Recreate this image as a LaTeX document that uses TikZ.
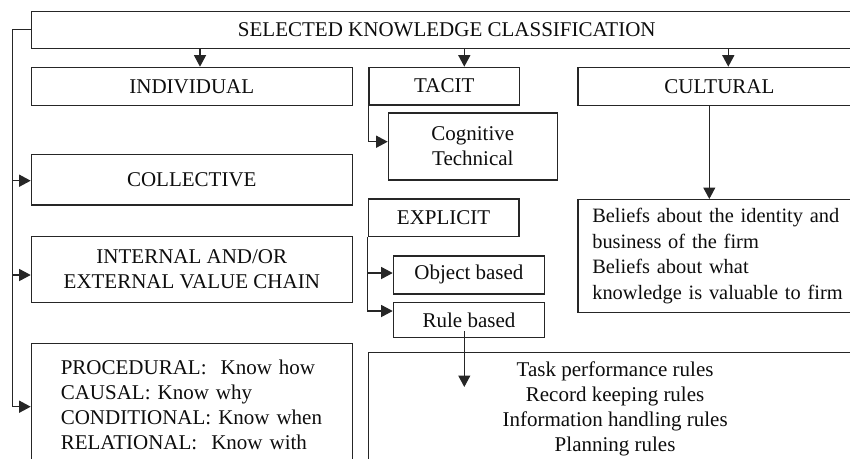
\documentclass[tikz,border=0pt]{standalone}
\usepackage{fontspec}
\setmainfont{Liberation Serif}
\usetikzlibrary{arrows.meta}
\frenchspacing
\begin{document}
\begin{tikzpicture}[x=1pt,y=-1pt,
  box/.style={draw=black!85, line width=1.2pt, anchor=north west, inner sep=0pt,
              font=\fontsize{21}{25}\selectfont, text=black!95},
  arr/.style={draw=black!85, line width=1.2pt, -{Triangle[length=11.5pt,width=12pt]}},
  ln/.style={draw=black!85, line width=1.2pt}]
\clip (0,0) rectangle (850,458);
% boxes
\node[box, minimum width=831, minimum height=37] (title) at (30.7,10.7) {SELECTED KNOWLEDGE CLASSIFICATION};
\node[box, minimum width=321, minimum height=38.3] (indiv) at (30.7,66.7) {INDIVIDUAL};
\node[box, minimum width=150.7, minimum height=37.6] (tacit) at (368.3,66.7) {TACIT};
\node[box, minimum width=283, minimum height=38.3] (cult) at (577.3,66.7) {CULTURAL};
\node[box, minimum width=169, minimum height=67, align=center] (cog) at (387.7,112.3) {Cognitive\\Technical};
\node[box, minimum width=321, minimum height=50.3] (coll) at (30.7,154) {COLLECTIVE};
\node[box, minimum width=150.6, minimum height=37.7] (expl) at (367.7,198.3) {EXPLICIT};
\node[box, minimum width=283, minimum height=112.7, text width=266, inner xsep=14.4, align=left,
      font=\fontsize{20.4}{25.6}\selectfont] (bel) at (577.3,199)
  {\mbox{Beliefs about the identity and}\\\mbox{business of the firm}\\\mbox{Beliefs about what}\\\mbox{knowledge is valuable to firm}};
\node[box, minimum width=321, minimum height=65.7, align=center] (intern) at (30.7,236) {INTERNAL AND/OR\\EXTERNAL VALUE CHAIN};
\node[box, minimum width=151.3, minimum height=38] (obj) at (392.7,255.3) {Object based};
\node[box, minimum width=151.3, minimum height=35.3] (rule) at (392.7,301.7) {Rule based};
\node[box, minimum width=321, minimum height=124, text width=262, inner xsep=29.3, align=left] (proc) at (30.7,342.7)
  {\mbox{PROCEDURAL:\ \ Know how}\\\mbox{CAUSAL: Know why}\\\mbox{CONDITIONAL: Know when}\\\mbox{RELATIONAL:\ \ Know with}};
\node[box, minimum width=493.6, minimum height=113.4, align=center] (rules) at (367.7,351.7)
  {Task performance rules\\Record keeping rules\\Information handling rules\\Planning rules};
% helper coordinates
\coordinate (xa) at (200,0);
\coordinate (xb) at (464.3,0);
\coordinate (xc) at (728.3,0);
\coordinate (xd) at (709.3,0);
\coordinate (lft) at (12.3,0);
\coordinate (ycoll) at (0,180.7);
\coordinate (yint) at (0,275);
\coordinate (yproc) at (0,406.7);
\coordinate (ycog) at (0,141.7);
\coordinate (yobj) at (0,273);
\coordinate (yrule) at (0,311);
\coordinate (rbs) at (464.3,331);
\coordinate (rbe) at (464.3,387);
% connectors
\draw[arr] (title.south -| xa) -- (indiv.north -| xa);
\draw[arr] (title.south -| xb) -- (tacit.north -| xb);
\draw[arr] (title.south -| xc) -- (cult.north -| xc);
\draw[ln] (title.west) -- (title.west -| lft) -- (lft |- yproc);
\draw[arr] (lft |- ycoll) -- (coll.west |- ycoll);
\draw[arr] (lft |- yint) -- (intern.west |- yint);
\draw[arr] (lft |- yproc) -- (proc.west |- yproc);
\draw[arr] (tacit.south west) -- (tacit.south west |- ycog) -- (cog.west |- ycog);
\draw[arr] (expl.south west) -- (expl.south west |- yobj) -- (obj.west |- yobj);
\draw[arr] (expl.south west |- yobj) -- (expl.south west |- yrule) -- (rule.west |- yrule);
\draw[arr] (cult.south -| xd) -- (bel.north -| xd);
\draw[arr] (rbs) -- (rbe);
\end{tikzpicture}
\end{document}
